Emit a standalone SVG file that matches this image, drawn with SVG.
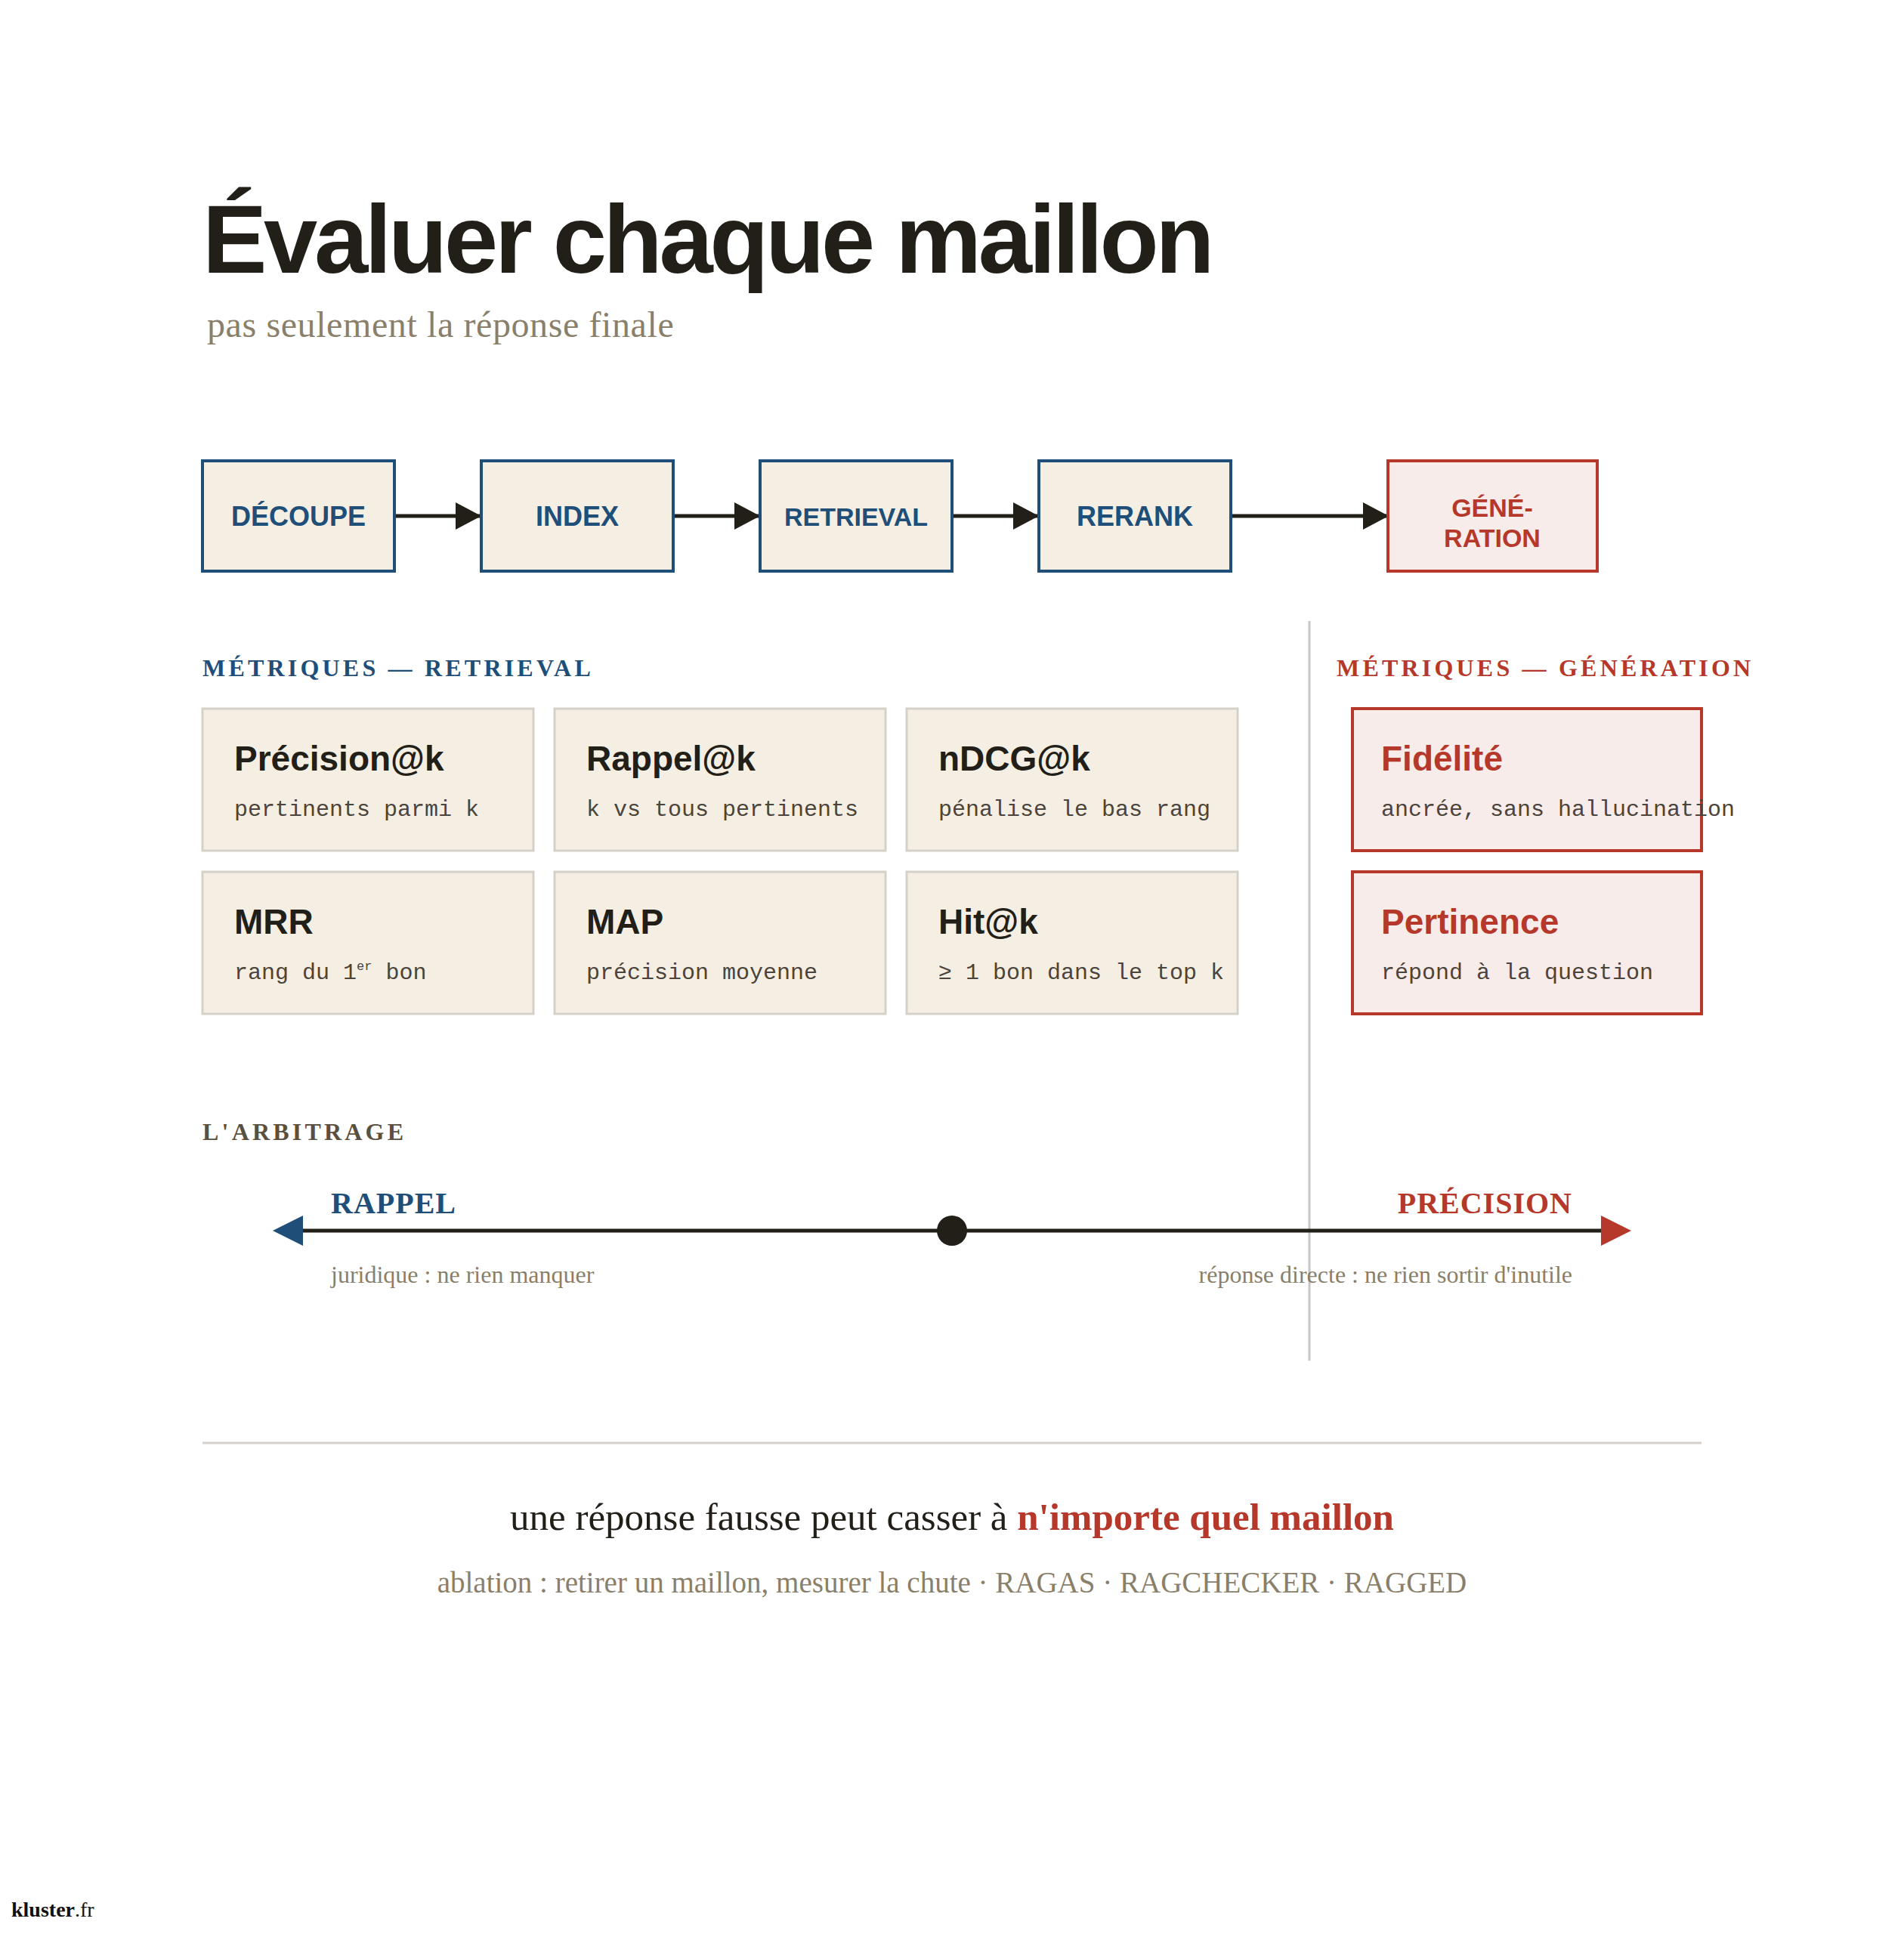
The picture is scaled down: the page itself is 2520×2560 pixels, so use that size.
<svg xmlns="http://www.w3.org/2000/svg" width="2520" height="2560" viewBox="0 0 2520 2560">
<style>
.title{font-family:"Liberation Sans",Arial,sans-serif;font-weight:bold;font-size:128px;letter-spacing:-4.3px;fill:#221e18}
.sub{font-family:"Liberation Serif","Times New Roman",serif;font-size:48px;letter-spacing:0.6px;fill:#8a7f6a}
.step{fill:#f5efe3;stroke:#1f4e79;stroke-width:4}
.stepg{fill:#f8ecea;stroke:#b5382a;stroke-width:4}
.steptxt{font-family:"Liberation Sans",Arial,sans-serif;font-weight:bold;font-size:36px;fill:#1f4e79;text-anchor:middle}
.steptxtg{font-family:"Liberation Sans",Arial,sans-serif;font-weight:bold;font-size:34px;fill:#b5382a;text-anchor:middle}
.head{font-family:"Liberation Serif","Times New Roman",serif;font-weight:bold;font-size:32px;letter-spacing:4.2px}
.card{fill:#f5efe3;stroke:#d6d1c8;stroke-width:3}
.cardg{fill:#f8ecea;stroke:#b5382a;stroke-width:4}
.ct{font-family:"Liberation Sans",Arial,sans-serif;font-weight:bold;font-size:46px;fill:#221e18}
.ctg{font-family:"Liberation Sans",Arial,sans-serif;font-weight:bold;font-size:46px;fill:#b5382a}
.cs{font-family:"Liberation Mono","Courier New",monospace;font-size:30px;fill:#4a443c}
.axlab{font-family:"Liberation Serif","Times New Roman",serif;font-weight:bold;font-size:40px;letter-spacing:1px}
.axsub{font-family:"Liberation Serif","Times New Roman",serif;font-size:32px;fill:#8a7f6a}
.conn{stroke:#221e18;stroke-width:5;fill:none}
</style>
<defs>
<marker id="ah" markerUnits="userSpaceOnUse" markerWidth="34" markerHeight="36" refX="34" refY="18" orient="auto">
<path d="M0,0 L34,18 L0,36 z" fill="#221e18"/>
</marker>
</defs>
<rect x="0" y="0" width="2520" height="2560" fill="#ffffff"/>

<text class="title" x="268" y="361">Évaluer chaque maillon</text>
<text class="sub" x="274" y="446">pas seulement la réponse finale</text>

<g id="connectors">
<line class="conn" x1="524" y1="683" x2="637" y2="683" marker-end="url(#ah)"/>
<line class="conn" x1="893" y1="683" x2="1006" y2="683" marker-end="url(#ah)"/>
<line class="conn" x1="1262" y1="683" x2="1375" y2="683" marker-end="url(#ah)"/>
<line class="conn" x1="1631" y1="683" x2="1838" y2="683" marker-end="url(#ah)"/>
</g>

<g id="node-decoupe">
<rect class="step" x="268" y="610" width="254" height="146"/>
<text class="steptxt" x="395" y="696">DÉCOUPE</text>
</g>
<g id="node-index">
<rect class="step" x="637" y="610" width="254" height="146"/>
<text class="steptxt" x="764" y="696">INDEX</text>
</g>
<g id="node-retrieval">
<rect class="step" x="1006" y="610" width="254" height="146"/>
<text class="steptxt" x="1133" y="696" style="font-size:34px">RETRIEVAL</text>
</g>
<g id="node-rerank">
<rect class="step" x="1375" y="610" width="254" height="146"/>
<text class="steptxt" x="1502" y="696">RERANK</text>
</g>
<g id="node-generation">
<rect class="stepg" x="1837" y="610" width="277" height="146"/>
<text class="steptxtg" x="1975" y="684">GÉNÉ-</text>
<text class="steptxtg" x="1975" y="724">RATION</text>
</g>

<line x1="1733" y1="822" x2="1733" y2="1801" stroke="#c8c6c2" stroke-width="3"/>

<text class="head" x="268" y="895" fill="#1f4e79">MÉTRIQUES — RETRIEVAL</text>
<text class="head" x="1769" y="895" fill="#b5382a">MÉTRIQUES — GÉNÉRATION</text>

<g id="card-precision">
<rect class="card" x="268" y="938" width="438" height="188"/>
<text class="ct" x="310" y="1020">Précision@k</text>
<text class="cs" x="310" y="1080">pertinents parmi k</text>
</g>
<g id="card-rappel">
<rect class="card" x="734" y="938" width="438" height="188"/>
<text class="ct" x="776" y="1020">Rappel@k</text>
<text class="cs" x="776" y="1080">k vs tous pertinents</text>
</g>
<g id="card-ndcg">
<rect class="card" x="1200" y="938" width="438" height="188"/>
<text class="ct" x="1242" y="1020">nDCG@k</text>
<text class="cs" x="1242" y="1080">pénalise le bas rang</text>
</g>
<g id="card-mrr">
<rect class="card" x="268" y="1154" width="438" height="188"/>
<text class="ct" x="310" y="1236">MRR</text>
<text class="cs" x="310" y="1296">rang du 1<tspan font-size="17" dy="-12">er</tspan><tspan dy="12"> bon</tspan></text>
</g>
<g id="card-map">
<rect class="card" x="734" y="1154" width="438" height="188"/>
<text class="ct" x="776" y="1236">MAP</text>
<text class="cs" x="776" y="1296">précision moyenne</text>
</g>
<g id="card-hit">
<rect class="card" x="1200" y="1154" width="438" height="188"/>
<text class="ct" x="1242" y="1236">Hit@k</text>
<text class="cs" x="1242" y="1296">≥ 1 bon dans le top k</text>
</g>
<g id="card-fidelite">
<rect class="cardg" x="1790" y="938" width="462" height="188"/>
<text class="ctg" x="1828" y="1020">Fidélité</text>
<text class="cs" x="1828" y="1080">ancrée, sans hallucination</text>
</g>
<g id="card-pertinence">
<rect class="cardg" x="1790" y="1154" width="462" height="188"/>
<text class="ctg" x="1828" y="1236">Pertinence</text>
<text class="cs" x="1828" y="1296">répond à la question</text>
</g>

<text class="head" x="268" y="1509" fill="#5a5040">L'ARBITRAGE</text>

<g id="axis">
<line x1="398" y1="1629" x2="2122" y2="1629" stroke="#221e18" stroke-width="5"/>
<polygon points="361,1629 401,1609 401,1649" fill="#1f4e79"/>
<polygon points="2159,1629 2119,1609 2119,1649" fill="#b5382a"/>
<circle cx="1260" cy="1629" r="20" fill="#221e18"/>
<text class="axlab" x="438" y="1606" fill="#1f4e79">RAPPEL</text>
<text class="axlab" x="2081" y="1606" fill="#b5382a" text-anchor="end">PRÉCISION</text>
<text class="axsub" x="438" y="1698">juridique : ne rien manquer</text>
<text class="axsub" x="2081" y="1698" text-anchor="end">réponse directe : ne rien sortir d'inutile</text>
</g>

<line x1="268" y1="1910" x2="2252" y2="1910" stroke="#d6d2cb" stroke-width="3"/>

<text x="1260" y="2025" text-anchor="middle" font-family="Liberation Serif, Times New Roman, serif" font-size="51" fill="#221e18">une réponse fausse peut casser à <tspan font-weight="bold" fill="#b5382a">n'importe quel maillon</tspan></text>
<text x="1260" y="2108" text-anchor="middle" font-family="Liberation Serif, Times New Roman, serif" font-size="39" fill="#8a7f6a">ablation : retirer un maillon, mesurer la chute · RAGAS · RAGCHECKER · RAGGED</text>

<text x="15" y="2537" font-family="Liberation Serif, Times New Roman, serif" font-size="28" fill="#111111"><tspan font-weight="bold">kluster</tspan>.fr</text>
</svg>
